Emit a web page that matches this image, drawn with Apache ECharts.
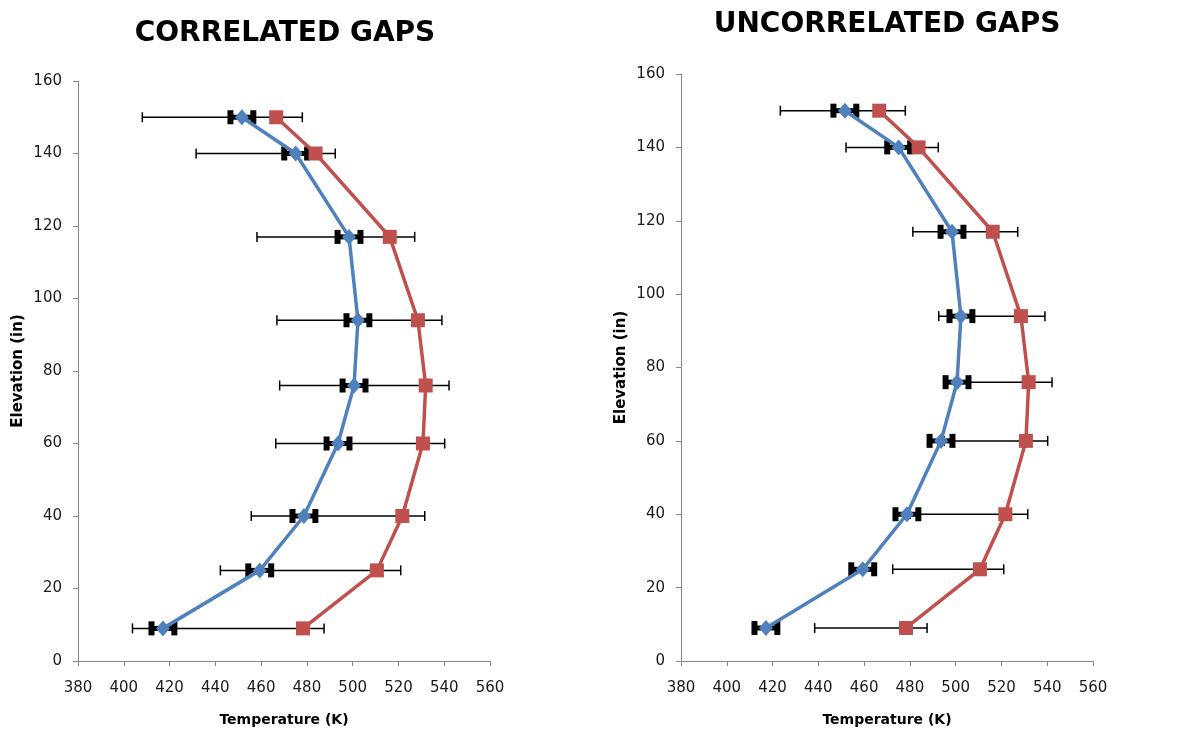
<!DOCTYPE html>
<html lang="en">
<head>
    <meta charset="UTF-8">
    <title>Correlated / Uncorrelated gaps</title>
    <style>
        html, body { margin: 0; padding: 0; background: #fff; }
        #main { width: 1179px; height: 733px; }
    </style>
</head>
<body>
<div id="main"></div>
<script src="https://cdn.jsdelivr.net/npm/echarts@6/dist/echarts.min.js"></script>
<script type="text/javascript">
    // elevation of each measuring point (in)
    var elevation = [150, 140, 117, 94, 76, 60, 40, 25, 9];
    // temperatures (K)
    var blueTemp = [451.6, 475.1, 498.4, 502.3, 500.6, 493.6, 478.7, 459.4, 417.1];
    var redTemp = [466.6, 483.8, 516.2, 528.5, 531.9, 530.7, 521.7, 510.6, 478.3];
    // thick error bars on the blue series (+/- K)
    var blueErr = [5, 5, 5, 5, 5, 5, 5, 5, 5];
    // thin error bars on the red series: low end differs per chart, high end shared
    var corrLow = [408.1, 431.6, 458.2, 466.9, 468.1, 466.4, 455.7, 442.2, 403.8];
    var uncorrLow = [423.4, 452.1, 481.3, 492.6, 500, 495, 480, 472.5, 438.4];
    var errHigh = [478, 492.4, 527.1, 539, 542.1, 540.2, 531.5, 521, 487.5];
    var xTicks = [380, 560, 20];
    var yTicks = [0, 160, 20];

    var BLUE = '#4F81BD', RED = '#C0504D';

    function pairs(xs) {
        return xs.map(function (x, i) { return [x, elevation[i]]; });
    }
    function ranges(lo, hi) {
        return lo.map(function (l, i) { return [l, hi[i], elevation[i]]; });
    }
    function blueRanges() {
        return blueTemp.map(function (t, i) { return [t - blueErr[i], t + blueErr[i], elevation[i]]; });
    }

    // draws a horizontal error bar with end caps
    function errorBar(lineW, capW, capH) {
        return function (params, api) {
            var y = api.value(2);
            var a = api.coord([api.value(0), y]);
            var b = api.coord([api.value(1), y]);
            var st = { stroke: '#000', lineWidth: lineW };
            var cs = { stroke: '#000', lineWidth: capW };
            return {
                type: 'group',
                children: [
                    { type: 'line', shape: { x1: a[0], y1: a[1], x2: b[0], y2: b[1] }, style: st },
                    { type: 'line', shape: { x1: a[0], y1: a[1] - capH, x2: a[0], y2: a[1] + capH }, style: cs },
                    { type: 'line', shape: { x1: b[0], y1: b[1] - capH, x2: b[0], y2: b[1] + capH }, style: cs }
                ]
            };
        };
    }

    function xAxis(idx) {
        return {
            type: 'value', gridIndex: idx,
            min: xTicks[0], max: xTicks[1], interval: xTicks[2],
            name: 'Temperature (K)', nameLocation: 'middle', nameGap: 52,
            nameTextStyle: { fontFamily: 'DejaVu Sans', fontWeight: 'bold', fontSize: 14, color: '#000' },
            axisLine: { lineStyle: { color: '#868686' } },
            axisTick: { length: 5, lineStyle: { color: '#868686' } },
            splitLine: { show: false },
            axisLabel: { fontFamily: 'DejaVu Sans', fontSize: 15, color: '#1a1a1a', margin: 20 }
        };
    }
    function yAxis(idx) {
        return {
            type: 'value', gridIndex: idx,
            min: yTicks[0], max: yTicks[1], interval: yTicks[2],
            name: 'Elevation (in)', nameLocation: 'middle', nameGap: 52,
            nameTextStyle: { fontFamily: 'DejaVu Sans', fontWeight: 'bold', fontSize: 15, color: '#000' },
            axisLine: { show: true, lineStyle: { color: '#868686' } },
            axisTick: { show: true, length: 5, lineStyle: { color: '#868686' } },
            splitLine: { show: false },
            axisLabel: { fontFamily: 'DejaVu Sans', fontSize: 15, color: '#1a1a1a', margin: 16 }
        };
    }

    function seriesFor(idx, low) {
        return [
            {
                type: 'custom', xAxisIndex: idx, yAxisIndex: idx, z: 1,
                renderItem: errorBar(1.5, 1.5, 5),
                encode: { x: [0, 1], y: 2 },
                data: ranges(low, errHigh)
            },
            {
                type: 'custom', xAxisIndex: idx, yAxisIndex: idx, z: 1,
                renderItem: errorBar(5, 6, 7),
                encode: { x: [0, 1], y: 2 },
                data: blueRanges()
            },
            {
                type: 'line', xAxisIndex: idx, yAxisIndex: idx, z: 3,
                data: pairs(redTemp),
                symbol: 'rect', symbolSize: 14, showAllSymbol: true,
                itemStyle: { color: RED },
                lineStyle: { color: RED, width: 3.5 },
                animation: false
            },
            {
                type: 'line', xAxisIndex: idx, yAxisIndex: idx, z: 4,
                data: pairs(blueTemp),
                symbol: 'diamond', symbolSize: [14, 16], showAllSymbol: true,
                itemStyle: { color: BLUE },
                lineStyle: { color: BLUE, width: 3.5 },
                animation: false
            }
        ];
    }

    var myChart = echarts.init(document.getElementById('main'));
    var option = {
        backgroundColor: '#fff',
        animation: false,
        title: [
            {
                text: 'CORRELATED GAPS', left: 280, top: 15, textAlign: 'center',
                textStyle: { fontFamily: 'DejaVu Sans', fontWeight: 'bold', fontSize: 28, color: '#000' }
            },
            {
                text: 'UNCORRELATED GAPS', left: 882, top: 6, textAlign: 'center',
                textStyle: { fontFamily: 'DejaVu Sans', fontWeight: 'bold', fontSize: 28, color: '#000' }
            }
        ],
        grid: [
            { left: 78, top: 81, width: 412, height: 580 },
            { left: 681, top: 74, width: 412, height: 587 }
        ],
        xAxis: [xAxis(0), xAxis(1)],
        yAxis: [yAxis(0), yAxis(1)],
        series: seriesFor(0, corrLow).concat(seriesFor(1, uncorrLow))
    };
    myChart.setOption(option);
</script>
</body>
</html>
